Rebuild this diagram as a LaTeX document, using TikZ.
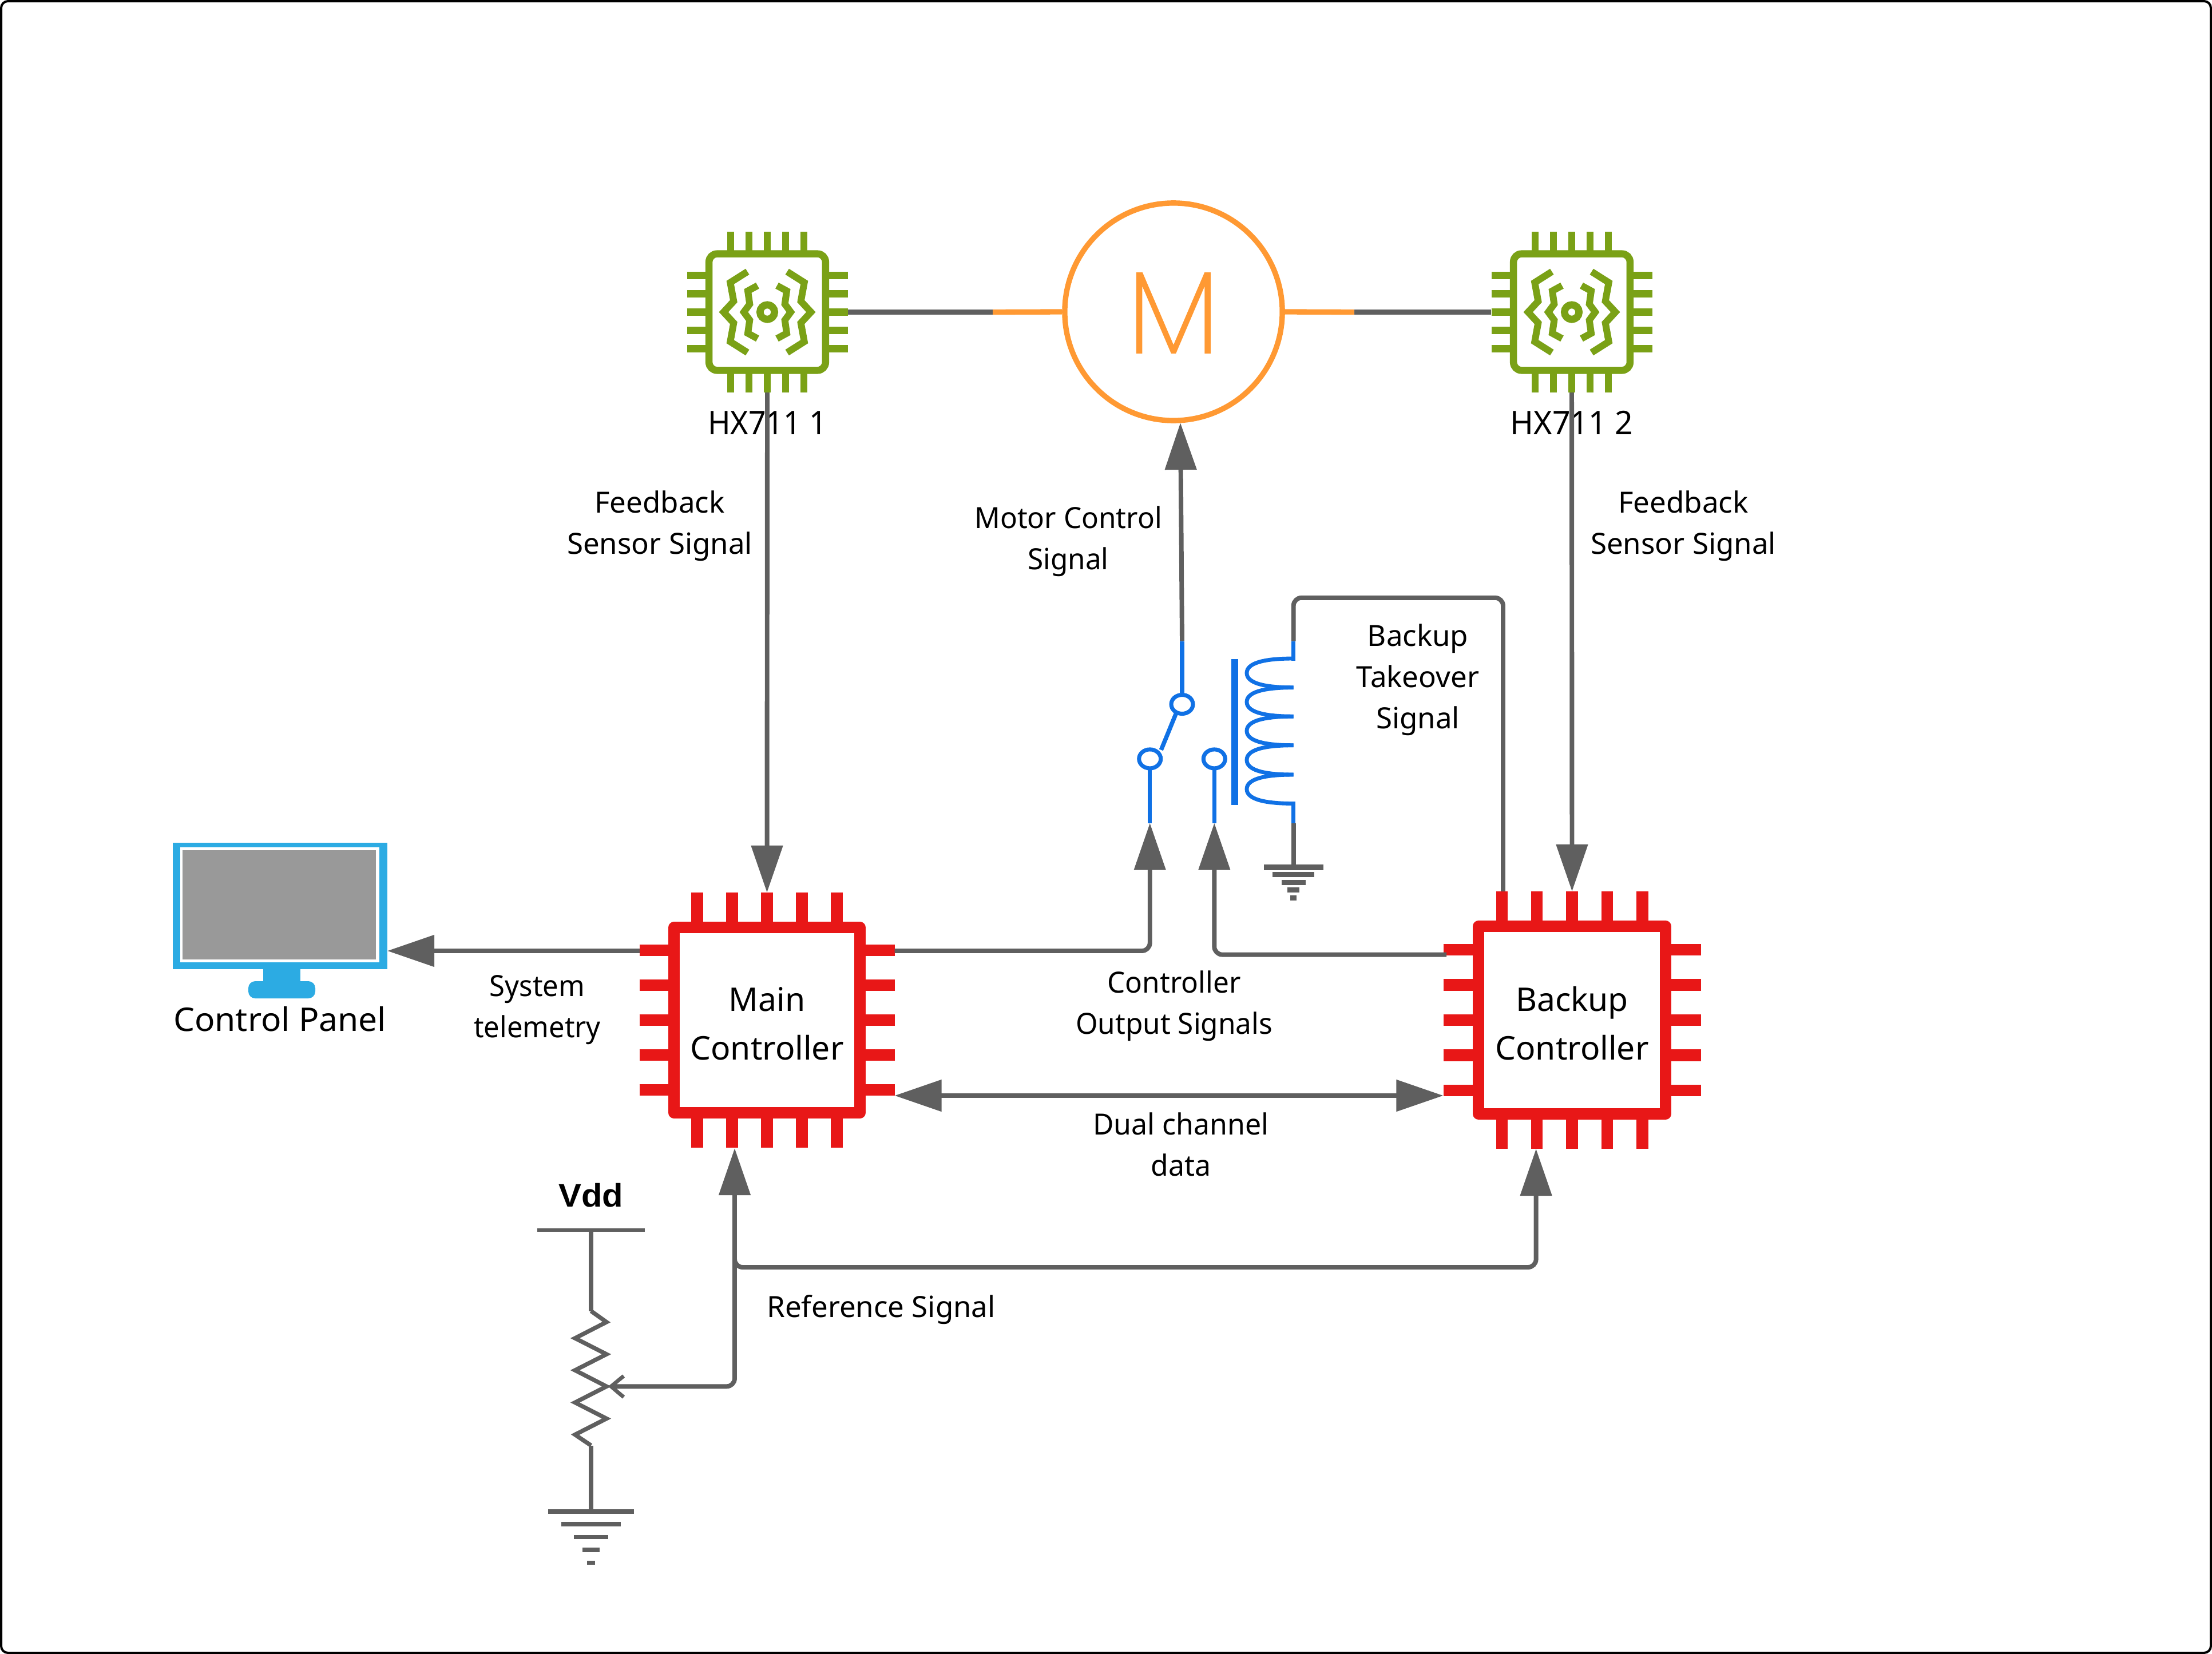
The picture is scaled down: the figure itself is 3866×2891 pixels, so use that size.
\documentclass[tikz,border=0pt]{standalone}
\usepackage{fontspec}
\setmainfont{Noto Sans}
\newfontfamily\motorfont[FakeBold=0.9]{Poppins ExtraLight}
\newfontfamily\vddfont{Liberation Sans Bold}
\usetikzlibrary{arrows.meta,shapes.geometric}
\definecolor{wire}{HTML}{5F5F5F}
\definecolor{chipred}{HTML}{E81717}
\definecolor{chipgreen}{HTML}{7AA116}
\definecolor{relayblue}{HTML}{1071E5}
\definecolor{motororange}{HTML}{FF9933}
\definecolor{panelblue}{HTML}{2CABE3}
\definecolor{screengray}{HTML}{999999}
\tikzset{
  wireline/.style={draw=wire,line width=2.25pt},
  heavywire/.style={draw=wire,line width=2.6pt},
  tipped/.style={-{Triangle[length=0.82cm,width=0.54cm]}},
  bothtipped/.style={{Triangle[length=0.82cm,width=0.54cm]}-{Triangle[length=0.82cm,width=0.54cm]}},
  elbow/.style={rounded corners=0.14cm},
  bluewire/.style={draw=relayblue,line width=2.13pt},
  contact/.style={ellipse,draw=relayblue,line width=2pt,minimum width=0.38cm,minimum height=0.33cm,inner sep=0pt,fill=white},
  smalltext/.style={font=\fontsize{14.5}{20.57}\selectfont,align=center,inner sep=0pt,text=black},
  largetext/.style={font=\fontsize{16.2}{24.3}\selectfont,align=center,inner sep=0pt,text=black},
  redpin/.style={draw=chipred,line width=5.8pt},
  redbody/.style={rectangle,draw=chipred,fill=white,line width=5.7pt,line join=round,inner sep=0pt},
  greenpin/.style={draw=chipgreen,line width=3.6pt},
  greenbody/.style={rectangle,draw=chipgreen,fill=white,line width=3.55pt,rounded corners=0.14cm,minimum size=2.035cm,inner sep=0pt},
  greenwave/.style={draw=chipgreen,line width=3.4pt},
  gndbar/.style={fill=wire},
}
% name, x, y, pin pitch, half extent over the pins, body size
\newcommand{\redchip}[6]{%
  \begin{scope}[shift={(#2,#3)}]
    \foreach \k in {-2,-1,0,1,2}{
      \draw[redpin] ({\k*#4},-#5) -- ({\k*#4},#5);
      \draw[redpin] (-#5,{\k*#4}) -- (#5,{\k*#4});
    }
    \node[redbody,minimum size=#6cm] (#1) at (0,0) {};
  \end{scope}}
\newcommand{\greenchip}[3]{%
  \begin{scope}[shift={(#2,#3)}]
    \foreach \d in {-64,-32,0,32,64}{
      \draw[greenpin] (\d,-140.5) -- (\d,140.5);
      \draw[greenpin] (-140.5,\d) -- (140.5,\d);
    }
    \node[greenbody] (#1) at (0,0) {};
    \foreach \s in {1,-1}{
      \begin{scope}[xscale=\s]
        \draw[greenwave] (-34.7,-70.7) -- (-64.7,-51.7) -- (-58.7,-19) -- (-76.3,0) -- (-58.7,19) -- (-64.7,51.7) -- (-34.7,70.7);
        \draw[greenwave] (-17,-46.3) -- (-34,-37) -- (-30.7,-14) -- (-41,0) -- (-30.7,14) -- (-34,37) -- (-17,46.3);
      \end{scope}
    }
    \draw[chipgreen,line width=3.6pt] (0,0) circle (12.7);
  \end{scope}}
\begin{document}
\begin{tikzpicture}[x=0.01cm,y=-0.01cm]
\useasboundingbox (0,0) rectangle (3866,2891);
\draw[black,line width=1.14pt,rounded corners=0.12cm] (2,2) rectangle (3864,2889);

% chips
\greenchip{hxa}{1341}{545.5}
\greenchip{hxb}{2747}{545.5}
\redchip{main}{1340.5}{1783}{61}{223}{3.24}
\redchip{backup}{2747.5}{1783}{61.4}{225}{3.27}

% motor
\node[circle,draw=motororange,fill=white,line width=2.67pt,minimum size=3.8cm,inner sep=0pt] (motor) at (2051,545) {};
\node[text=motororange,font=\motorfont\fontsize{58}{58}\selectfont,inner sep=0pt,xscale=0.96] (motorM) at (2051,547) {M};

% control panel
\fill[panelblue,rounded corners=0.12cm] (434,1715) rectangle (551,1745);
\fill[panelblue] (460,1694) rectangle (525,1720);
\node[rectangle,fill=panelblue,minimum width=3.75cm,minimum height=2.21cm,inner sep=0pt] (panel) at (489.5,1583.5) {};
\fill[white] (315,1481) rectangle (663,1681.5);
\fill[screengray] (319,1486) rectangle (657,1676.5);

% texts
\node[largetext,xscale=1.03] (tpanel) at (489,1785) {\strut Control Panel};
\node[largetext,xscale=0.94] (thxa) at (1341,742) {\strut HX711 1};
\node[largetext,xscale=0.97] (thxb) at (2747,742) {\strut HX711 2};
\node[largetext] (tmain) at (1340.5,1793) {\strut Main\\\strut Controller};
\node[largetext] (tbackup) at (2747.5,1793) {\strut Backup\\\strut Controller};
\node[largetext,xscale=1.05,font=\vddfont\fontsize{16.2}{24.3}\selectfont] (tvdd) at (1033,2092) {\strut Vdd};
\node[smalltext] (tfba) at (1153,918) {\strut Feedback\\\strut Sensor Signal};
\node[smalltext] (tfbb) at (2942,918) {\strut Feedback\\\strut Sensor Signal};
\node[smalltext,xscale=0.97] (tmcs) at (1867,945) {\strut Motor Control\\\strut Signal};
\node[smalltext] (tbts) at (2478,1187) {\strut Backup\\\strut Takeover\\\strut Signal};
\node[smalltext,xscale=0.97] (tcos) at (2052,1757) {\strut Controller\\\strut Output Signals};
\node[smalltext,xscale=0.96] (ttel) at (939,1763) {\strut System\\\strut telemetry};
\node[smalltext,xscale=0.98] (tdual) at (2064,2005) {\strut Dual channel\\\strut data};
\node[smalltext] (tref) at (1540,2288) {\strut Reference Signal};

% named connection points
\coordinate (hxaR) at (1482,545.5);
\coordinate (hxaB) at (1341,686);
\coordinate (hxbL) at (2606,545.5);
\coordinate (hxbB) at (2747,686);
\coordinate (stubL) at (1735,545.5);
\coordinate (stubR) at (2366.5,545.5);
\coordinate (mainT) at (1340.5,1560);
\coordinate (mainL1) at (1117.5,1662);
\coordinate (mainR1) at (1563.5,1662);
\coordinate (mainR5) at (1563.5,1915);
\coordinate (mainB) at (1284,2007);
\coordinate (backT) at (2747.5,1558);
\coordinate (backT1) at (2627,1558);
\coordinate (backL1) at (2528,1668.6);
\coordinate (backL5) at (2522.5,1915);
\coordinate (backB) at (2684.6,2008);
\coordinate (panelIn) at (677,1662);
\coordinate (motorIn) at (2063,739);
\coordinate (swTop) at (2066,1120.5);
\coordinate (coilTop) at (2260.7,1120.5);
\coordinate (coilBot) at (2260.7,1438.6);
\coordinate (nA) at (2009.7,1438.6);
\coordinate (nB) at (2122.3,1438.6);
\coordinate (gndA) at (2260.7,1511);
\coordinate (vddBar) at (1033,2150);
\coordinate (resTop) at (1033,2291.5);
\coordinate (resBot) at (1033,2526.5);
\coordinate (gndB) at (1033,2638);
\coordinate (wiper) at (1068,2423.3);
\coordinate (junction) at (1284,2190);

% motor stubs and links
\draw[motororange,line width=2.65pt] (stubL) -- (motor.west);
\draw[motororange,line width=2.65pt] (motor.east) -- (stubR);
\draw[heavywire] (hxaR) -- (stubL);
\draw[heavywire] (hxbL) -- (stubR);

% feedback
\draw[wireline,tipped] (hxaB) -- (mainT);
\draw[wireline,tipped] (hxbB) -- (backT);

% relay
\node[contact] (c1) at (2066,1231) {};
\node[contact] (c2) at (2009.7,1326.4) {};
\node[contact] (c3) at (2122.3,1326.4) {};
\coordinate (armA) at (2055,1248);
\coordinate (armB) at (2029.3,1310.8);
\draw[bluewire] (swTop) -- (c1);
\draw[bluewire] (armA) -- (armB);
\draw[bluewire] (c2) -- (nA);
\draw[bluewire] (c3) -- (nB);
\fill[relayblue] (2152.3,1151.5) rectangle (2163.7,1406.5);
\draw[bluewire] (coilTop) -- (2260.7,1154.5);
\draw[bluewire] (2260.7,1401) -- (coilBot);
\foreach \a/\b in {1151/1201.7,1201.7/1252.2,1252.2/1302.7,1302.7/1354,1354/1404.5}{
  \draw[draw=relayblue,line width=1.95pt]
    (2260.7,\a) .. controls (2205,\a) and (2179,\a+9) .. (2179,{(\a+\b)/2})
    .. controls (2179,\b-9) and (2205,\b) .. (2260.7,\b);
}
\draw[wireline,elbow] (coilTop) -- (2260.7,1044.8) -- (2627,1044.8) -- (backT1);
\draw[wireline] (coilBot) -- (gndA);
\fill[gndbar] (2209,1511) rectangle (2313,1520.5);
\fill[gndbar] (2224,1524) rectangle (2297,1533);
\fill[gndbar] (2240,1537.7) rectangle (2282,1547);
\fill[gndbar] (2250,1551) rectangle (2271,1560);
\fill[gndbar] (2255,1565) rectangle (2266,1574);

% control signals
\draw[wireline,tipped] (swTop) -- (motorIn);
\draw[wireline,tipped,elbow] (mainR1) -- (2009.7,1662) -- (nA);
\draw[wireline,tipped,elbow] (backL1) -- (2122.3,1668.6) -- (nB);
\draw[wireline,tipped] (mainL1) -- (panelIn);
\draw[wireline,bothtipped] (mainR5) -- (backL5);

% potentiometer
\draw[wire,line width=1.9pt] (939,2150) -- (1127,2150);
\draw[wireline] (vddBar) -- (resTop);
\draw[draw=wire,line width=2.1pt] (resTop) -- (1060,2310.8) -- (1005,2339) -- (1060,2367) -- (1005,2395) -- (1060,2423.3) -- (1005,2451.4) -- (1060,2479.5) -- (1005,2507.6) -- (resBot);
\draw[wireline] (resBot) -- (gndB);
\fill[gndbar] (958,2638) rectangle (1108,2646);
\fill[gndbar] (981,2660) rectangle (1085,2667.6);
\fill[gndbar] (1003,2682.6) rectangle (1063,2690);
\fill[gndbar] (1018,2705) rectangle (1048,2712.7);
\fill[gndbar] (1026,2727.7) rectangle (1040,2735);
\draw[draw=wire,line width=1.9pt] (1090,2405) -- (wiper) -- (1090,2442);
\draw[wireline,tipped,elbow] (wiper) -- (1284,2423.3) -- (mainB);
\draw[wireline,tipped,elbow] (junction) -- (1284,2215) -- (2684.6,2215) -- (backB);
\end{tikzpicture}
\end{document}
